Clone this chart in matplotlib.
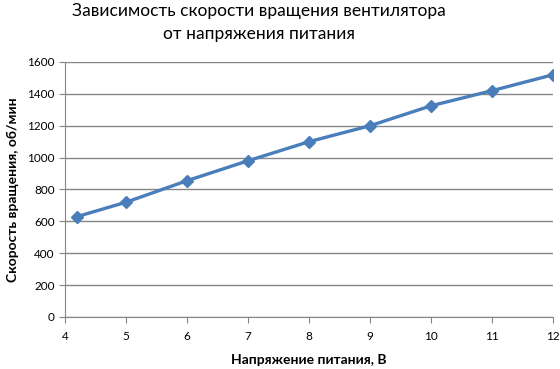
import matplotlib
matplotlib.use("Agg")
from matplotlib import pyplot as plt

# data
voltage = [4.2, 5, 6, 7, 8, 9, 10, 11, 12]
speed = [630, 720, 855, 980, 1100, 1200, 1325, 1420, 1520]
x_ticks = [4, 5, 6, 7, 8, 9, 10, 11, 12]
y_ticks = [0, 200, 400, 600, 800, 1000, 1200, 1400, 1600]

plt.rcParams['font.family'] = ['Lato', 'DejaVu Sans']

fig = plt.figure(figsize=(5.6, 3.69), dpi=100)
ax = fig.add_axes([0.116, 0.141, 0.8715, 0.691])

grid_c = '#868686'
ax.plot(voltage, speed, color='#4A7EBB', lw=2.4, marker='D', ms=6,
        markeredgecolor='#4A7EBB', zorder=3)

ax.set_xlim(4, 12)
ax.set_ylim(0, 1600)
ax.set_xticks(x_ticks)
ax.set_yticks(y_ticks)
ax.yaxis.grid(True, color=grid_c, lw=1)
ax.set_axisbelow(True)

for s in ['top', 'right']:
    ax.spines[s].set_visible(False)
for s in ['left', 'bottom']:
    ax.spines[s].set_color(grid_c)
ax.tick_params(colors=grid_c, length=4, labelsize=8.5, labelcolor='black')
ax.tick_params(axis='x', pad=6)

ax.set_xlabel('Напряжение питания, В', fontsize=10, fontweight='bold', labelpad=9)
ax.set_ylabel('Скорость вращения, об/мин', fontsize=10, fontweight='bold', labelpad=6)

fig.text(0.462, 0.992, 'Зависимость скорости вращения вентилятора\nот напряжения питания',
         ha='center', va='top', fontsize=12.5, linespacing=1.55)

fig.savefig('out.png', dpi=100)
